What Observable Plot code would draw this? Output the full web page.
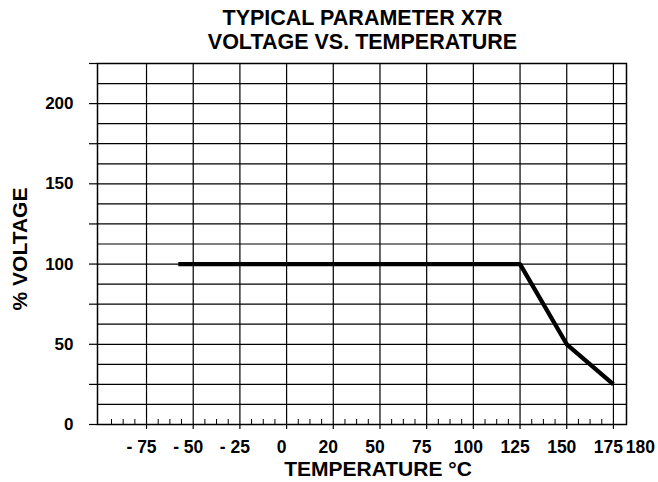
<!DOCTYPE html>
<html>
<head>
<meta charset="utf-8">
<script src="https://cdn.jsdelivr.net/npm/d3@7"></script>
<script src="https://cdn.jsdelivr.net/npm/@observablehq/plot@0.6"></script>
<style>
  html, body { margin: 0; padding: 0; background: #fff; }
  #title {
    box-sizing: border-box; width: 658px; height: 56px; padding: 7px 0 0 67px;
    font: bold 21.5px "Liberation Sans", Arial, sans-serif; line-height: 23.5px;
    text-align: center; color: #000;
  }
</style>
</head>
<body>
<div id="title">TYPICAL PARAMETER X7R<br>VOLTAGE VS. TEMPERATURE</div>
<div id="chart"></div>
<script>
// Temperatures (°C) at the vertical grid lines
const gridTemps = [-75, -50, -25, 0, 20, 50, 75, 100, 125, 150, 175];
// X tick labels and the temperatures they label
const xLabelTemps = [-75, -50, -25, 0, 20, 50, 75, 100, 125, 150, 175, 180];
const xTickLabels = ["- 75", "- 50", "- 25", "0", "20", "50", "75", "100", "125", "150", "175", "180"];
// Y axis
const yTickLabels = [0, 50, 100, 150, 200];
const yTicks = [0, 25, 50, 75, 100, 125, 150, 175, 200, 225];
const yGrid = [12.5, 25, 37.5, 50, 62.5, 75, 87.5, 100, 112.5, 125, 137.5, 150, 162.5, 175, 187.5, 200, 212.5];
// Curve: % rated voltage vs temperature
const curveTemp = [-58, 125, 150, 175];
const curveVoltage = [100, 100, 50, 25];

// The chart's temperature axis is not linear: grid lines are equally spaced
const tempToPos = d3.scaleLinear().domain(gridTemps).range(gridTemps.map((d, i) => i));
const gridPos = gridTemps.map(tempToPos);
const minorPos = d3.range(-1, gridTemps.length - 1).flatMap(k => [k + 0.25, k + 0.5, k + 0.75]);
const curve = curveTemp.map((t, i) => ({x: tempToPos(t), y: curveVoltage[i]}));
const xLabels = xLabelTemps.map((t, i) => ({x: tempToPos(t), label: xTickLabels[i]}));

const font = "'Liberation Sans', Arial, sans-serif";
const ink = "#000";

const chart = Plot.plot({
  width: 658,
  height: 426,
  marginTop: 7,
  marginBottom: 58,
  marginLeft: 97,
  marginRight: 32,
  style: {fontFamily: font, fontWeight: "bold", color: ink, background: "#fff", overflow: "visible"},
  x: {domain: [-1.05, 10.28]},
  y: {domain: [0, 225]},
  marks: [
    Plot.ruleY(yGrid, {stroke: ink, strokeWidth: 1.2}),
    Plot.ruleX(gridPos, {stroke: ink, strokeWidth: 1.2}),
    Plot.axisX({ticks: gridPos, tickSize: 5, tickFormat: () => "", label: null, stroke: ink, strokeWidth: 1.2}),
    Plot.axisX({ticks: minorPos, tickSize: -5, tickFormat: () => "", label: null, stroke: ink, strokeWidth: 1}),
    Plot.axisY({ticks: yTicks, tickSize: 8, tickFormat: () => "", label: null, stroke: ink, strokeWidth: 1.2}),
    Plot.frame({stroke: ink, strokeWidth: 1.5}),
    Plot.line(curve, {x: "x", y: "y", stroke: ink, strokeWidth: 4.3, strokeLinecap: "butt", strokeLinejoin: "miter"}),
    Plot.text(yTickLabels, {y: d => d, text: d => String(d), frameAnchor: "left", textAnchor: "end", lineAnchor: "middle", dx: -24, fontSize: 17, fill: ink}),
    Plot.text(xLabels.filter(d => d.label !== "180"), {x: "x", text: "label", frameAnchor: "bottom", lineAnchor: "middle", dy: 23, dx: -5, fontSize: 17.5, fill: ink}),
    Plot.text(xLabels.filter(d => d.label === "180"), {x: "x", text: "label", frameAnchor: "bottom", lineAnchor: "middle", dy: 23, dx: 3, textAnchor: "start", fontSize: 17.5, fill: ink}),
    Plot.text(["TEMPERATURE °C"], {frameAnchor: "bottom", lineAnchor: "middle", textAnchor: "middle", dy: 45, dx: 16, fontSize: 21, fill: ink}),
    Plot.text(["% VOLTAGE"], {frameAnchor: "left", textAnchor: "middle", lineAnchor: "middle", rotate: -90, dx: -77, dy: 5, fontSize: 21, fill: ink})
  ]
});
document.getElementById("chart").appendChild(chart);
</script>
</body>
</html>
